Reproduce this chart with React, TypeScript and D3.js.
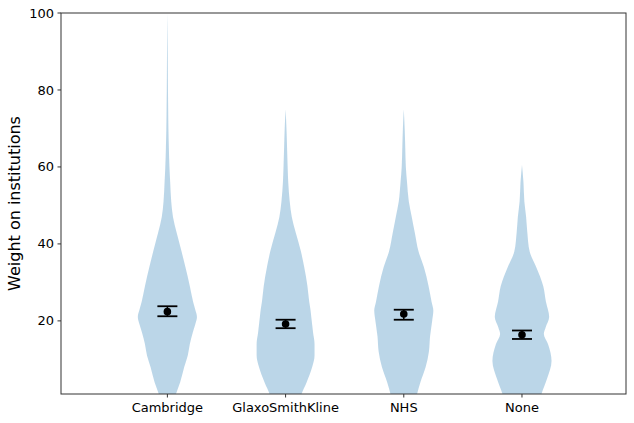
import React from "react";
import * as d3 from "d3";

// categories and summary stats
const categories = ["Cambridge", "GlaxoSmithKline", "NHS", "None"];
const means = [22.4, 19.2, 21.8, 16.4];
const ciLow = [21.2, 18.1, 20.3, 15.3];
const ciHigh = [23.8, 20.3, 22.9, 17.5];

// density profiles: [value, relative half-width]
const cambridgeDensity = [
  [0, 0.25], [1, 0.29], [4, 0.43], [8, 0.57], [11, 0.69], [14, 0.76], [17, 0.86],
  [19, 0.94], [21, 1.0], [23, 0.94], [25, 0.87], [29, 0.76], [34, 0.61],
  [38, 0.48], [43, 0.31], [47, 0.19], [51, 0.13], [56, 0.095], [60, 0.07],
  [65, 0.05], [70, 0.035], [75, 0.027], [80, 0.02], [90, 0.012], [100, 0.0],
];
const gskDensity = [
  [0, 0.5], [1, 0.54], [4, 0.71], [8, 0.9], [11, 0.98], [14, 0.98], [17, 0.93],
  [19, 0.9], [21, 0.87], [23, 0.84], [25, 0.8], [29, 0.74], [34, 0.63],
  [38, 0.52], [43, 0.34], [47, 0.21], [51, 0.14], [56, 0.09], [60, 0.07],
  [65, 0.05], [70, 0.03], [75, 0.0],
];
const nhsDensity = [
  [0, 0.42], [1, 0.45], [4, 0.56], [8, 0.74], [12, 0.85], [16, 0.89], [20, 0.96],
  [22.7, 1.0], [25, 0.94], [29, 0.84], [34, 0.68], [38, 0.5], [43, 0.37],
  [47, 0.27], [51, 0.17], [56, 0.11], [60, 0.07], [65, 0.05], [70, 0.03], [75, 0.0],
];
const noneDensity = [
  [0, 0.62], [1, 0.66], [5, 0.85], [9.6, 1.0], [14, 0.88], [16.6, 0.74],
  [18.3, 0.8], [21, 0.92], [25, 0.81], [29, 0.72], [34, 0.48], [38, 0.26],
  [43, 0.18], [47, 0.14], [51, 0.08], [56, 0.05], [60.5, 0.0],
];
const densities = [cambridgeDensity, gskDensity, nhsDensity, noneDensity];

const yTicks = [20, 40, 60, 80, 100];

const W = 634;
const H = 423;
const left = 61;
const right = 626;
const top = 13;
const bottom = 394;

export default function App() {
  const x = d3.scaleLinear().domain([0.1, 4.88]).range([left, right]);
  const y = d3.scaleLinear().domain([1, 100]).range([bottom, top]);
  const halfMax = x(1.25) - x(1);

  const font = "DejaVu Sans, sans-serif";

  return (
    <svg
      width={W}
      height={H}
      style={{ position: "absolute", left: 0, top: 0, background: "#fff" }}
    >
      <defs>
        <clipPath id="plot">
          <rect x={left} y={top} width={right - left} height={bottom - top} />
        </clipPath>
      </defs>

      <g clipPath="url(#plot)">
        {densities.map((dens, i) => {
          const cx = x(i + 1);
          const area = d3
            .area<number[]>()
            .y((d) => y(d[0]))
            .x0((d) => cx - d[1] * halfMax)
            .x1((d) => cx + d[1] * halfMax)
            .curve(d3.curveMonotoneY);
          return (
            <path key={i} d={area(dens) || ""} fill="#1f77b4" fillOpacity={0.3} />
          );
        })}
      </g>

      {/* error bars */}
      {categories.map((c, i) => {
        const cx = x(i + 1);
        return (
          <g key={c} stroke="#000">
            <line x1={cx} x2={cx} y1={y(ciLow[i])} y2={y(ciHigh[i])} strokeWidth={1.5} />
            <line x1={cx - 10} x2={cx + 10} y1={y(ciLow[i])} y2={y(ciLow[i])} strokeWidth={1.8} />
            <line x1={cx - 10} x2={cx + 10} y1={y(ciHigh[i])} y2={y(ciHigh[i])} strokeWidth={1.8} />
            <circle cx={cx} cy={y(means[i])} r={3.8} fill="#000" stroke="none" />
          </g>
        );
      })}

      {/* frame */}
      <rect
        x={left}
        y={top}
        width={right - left}
        height={bottom - top}
        fill="none"
        stroke="#333"
        strokeWidth={1}
      />

      {/* y ticks */}
      {yTicks.map((t) => (
        <g key={t}>
          <line x1={left - 3.5} x2={left} y1={y(t)} y2={y(t)} stroke="#333" />
          <text
            x={left - 7}
            y={y(t)}
            dy="0.35em"
            textAnchor="end"
            fontFamily={font}
            fontSize={13}
            fill="#000"
          >
            {t}
          </text>
        </g>
      ))}

      {/* x ticks */}
      {categories.map((c, i) => (
        <g key={c}>
          <line x1={x(i + 1)} x2={x(i + 1)} y1={bottom} y2={bottom + 3.5} stroke="#333" />
          <text
            x={x(i + 1)}
            y={bottom + 18}
            textAnchor="middle"
            fontFamily={font}
            fontSize={13}
            fill="#000"
          >
            {c}
          </text>
        </g>
      ))}

      <text
        transform={`translate(20,${(top + bottom) / 2}) rotate(-90)`}
        textAnchor="middle"
        fontFamily={font}
        fontSize={16}
        fill="#000"
      >
        Weight on institutions
      </text>
    </svg>
  );
}
